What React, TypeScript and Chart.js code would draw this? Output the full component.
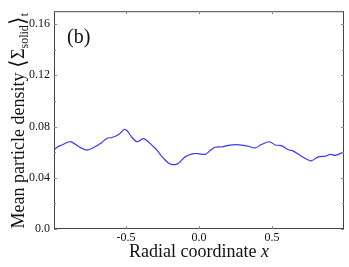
import React, { useEffect, useRef } from "react";
import { Chart, registerables } from "chart.js";

Chart.register(...registerables);

const xValues = [
  -0.994, -0.973, -0.939, -0.891, -0.871, -0.809, -0.767, -0.719, -0.671, -0.63,
  -0.596, -0.548, -0.514, -0.493, -0.459, -0.424, -0.383, -0.356, -0.308, -0.287,
  -0.246, -0.198, -0.15, -0.129, -0.095, -0.04, -0.005, 0.043, 0.077, 0.111,
  0.159, 0.2, 0.262, 0.303, 0.338, 0.386, 0.427, 0.482, 0.523, 0.564,
  0.612, 0.647, 0.702, 0.75, 0.77, 0.818, 0.866, 0.9, 0.935, 0.99,
];
const densityValues = [
  0.0616, 0.0638, 0.0656, 0.0681, 0.0678, 0.0633, 0.0616, 0.0638, 0.0671, 0.0709,
  0.0714, 0.0739, 0.0777, 0.0767, 0.0714, 0.0681, 0.0706, 0.0689, 0.0638, 0.0613,
  0.0555, 0.0507, 0.0507, 0.0525, 0.0563, 0.0588, 0.0588, 0.0583, 0.0613, 0.0638,
  0.0641, 0.0653, 0.0659, 0.0653, 0.0646, 0.0633, 0.0659, 0.0681, 0.0656, 0.0651,
  0.0618, 0.0608, 0.0568, 0.0538, 0.0532, 0.0563, 0.0568, 0.0583, 0.0575, 0.06,
];
const xMajorTicks = [-0.5, 0.0, 0.5];
const yMajorTicks = [0.0, 0.04, 0.08, 0.12, 0.16];
const yMinorTicks = [0.02, 0.06, 0.1, 0.14];
const xLabel = "Radial coordinate ";
const xLabelVar = "x";
const yLabel = "Mean particle density ";
const panelLabel = "(b)";

const SERIF = "'Liberation Serif', 'Times New Roman', serif";

const framePlugin = {
  id: "frameTicks",
  afterDraw(chart: any) {
    const { ctx, chartArea: a, scales } = chart;
    const xs = scales.x;
    const ys = scales.y;
    ctx.save();
    // frame
    ctx.strokeStyle = "#444";
    ctx.lineWidth = 1;
    ctx.strokeRect(a.left + 0.5, a.top + 0.5, a.right - a.left - 1, a.bottom - a.top - 1);
    // ticks
    ctx.strokeStyle = "#888";
    ctx.beginPath();
    const maj = 3;
    const min = 2;
    xMajorTicks.forEach((v) => {
      const px = Math.round(xs.getPixelForValue(v)) + 0.5;
      ctx.moveTo(px, a.bottom);
      ctx.lineTo(px, a.bottom - maj);
      ctx.moveTo(px, a.top);
      ctx.lineTo(px, a.top + maj);
    });
    yMajorTicks.concat(yMinorTicks).forEach((v) => {
      const len = yMajorTicks.includes(v) ? maj : min;
      const py = Math.round(ys.getPixelForValue(v)) + 0.5;
      ctx.moveTo(a.left, py);
      ctx.lineTo(a.left + len, py);
      ctx.moveTo(a.right, py);
      ctx.lineTo(a.right - len, py);
    });
    ctx.stroke();

    // panel label
    ctx.fillStyle = "#111";
    ctx.font = `20px ${SERIF}`;
    ctx.textBaseline = "alphabetic";
    ctx.textAlign = "left";
    ctx.fillText(panelLabel, a.left + 13, a.top + 32);

    // x title
    ctx.font = `18px ${SERIF}`;
    const w1 = ctx.measureText(xLabel).width;
    ctx.font = `italic 18px ${SERIF}`;
    const w2 = ctx.measureText(xLabelVar).width;
    const cx = (a.left + a.right) / 2;
    const startX = cx - (w1 + w2) / 2;
    ctx.font = `18px ${SERIF}`;
    ctx.fillText(xLabel, startX, 257);
    ctx.font = `italic 18px ${SERIF}`;
    ctx.fillText(xLabelVar, startX + w1, 257);

    // y title (rotated)
    const parts: { t: string; font: string; dy: number; dx?: number }[] = [
      { t: yLabel, font: `18px ${SERIF}`, dy: 0 },
      { t: "\u27E8", font: `22px ${SERIF}`, dy: 1 },
      { t: "\u03A3", font: `18px ${SERIF}`, dy: 0 },
      { t: "solid", font: `12px ${SERIF}`, dy: 4 },
      { t: "\u27E9", font: `22px ${SERIF}`, dy: 1 },
      { t: "t", font: `12px ${SERIF}`, dy: 4 },
    ];
    let total = 0;
    const widths = parts.map((p) => {
      ctx.font = p.font;
      const w = ctx.measureText(p.t).width;
      total += w;
      return w;
    });
    const cy = (a.top + a.bottom) / 2 + 0.5;
    ctx.translate(24, cy);
    ctx.rotate(-Math.PI / 2);
    let pos = -total / 2;
    parts.forEach((p, i) => {
      ctx.font = p.font;
      ctx.fillText(p.t, pos, p.dy);
      pos += widths[i];
    });
    ctx.restore();
  },
};

export default function App() {
  const ref = useRef<HTMLCanvasElement | null>(null);
  useEffect(() => {
    document.body.style.margin = "0";
    const canvas = ref.current;
    if (!canvas) return;
    const chart = new Chart(canvas, {
      type: "line",
      data: {
        datasets: [
          {
            data: xValues.map((x, i) => ({ x, y: densityValues[i] })),
            borderColor: "#3a3af2",
            borderWidth: 1.2,
            pointRadius: 0,
            tension: 0.35,
            fill: false,
          },
        ],
      },
      options: {
        animation: false,
        responsive: false,
        maintainAspectRatio: false,
        devicePixelRatio: 1,
        layout: { padding: { top: 4, right: 5, left: 0, bottom: 0 } },
        plugins: { legend: { display: false }, tooltip: { enabled: false } },
        scales: {
          x: {
            type: "linear",
            min: -0.994,
            max: 0.994,
            afterBuildTicks: (s: any) => {
              s.ticks = xMajorTicks.map((v) => ({ value: v }));
            },
            afterFit: (s: any) => {
              s.height = 38;
            },
            grid: { display: false, drawTicks: false },
            border: { display: false },
            ticks: {
              padding: 2,
              color: "#111",
              font: { family: SERIF, size: 12 },
              callback: (v: any) => Number(v).toFixed(1),
            },
          },
          y: {
            type: "linear",
            min: 0,
            max: 0.17,
            afterBuildTicks: (s: any) => {
              s.ticks = yMajorTicks.map((v) => ({ value: v }));
            },
            afterFit: (s: any) => {
              s.width = 54;
            },
            grid: { display: false, drawTicks: false },
            border: { display: false },
            ticks: {
              padding: 4,
              color: "#111",
              font: { family: SERIF, size: 12 },
              callback: (v: any) => (Number(v) === 0 ? "0.0" : Number(v).toFixed(2)),
            },
          },
        },
      },
      plugins: [framePlugin],
    });
    return () => chart.destroy();
  }, []);
  return (
    <div style={{ width: 349, height: 267, position: "relative" }}>
      <canvas ref={ref} width={349} height={267} style={{ display: "block" }} />
    </div>
  );
}
